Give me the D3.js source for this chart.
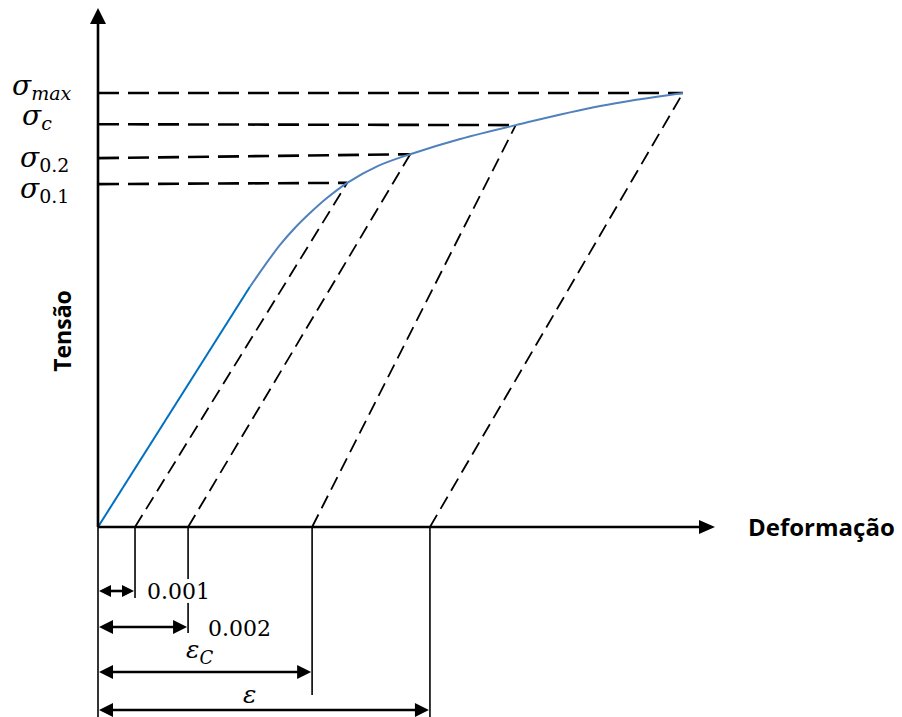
<!DOCTYPE html>
<html>
<head>
<meta charset="utf-8">
<script src="https://cdn.jsdelivr.net/npm/d3@7"></script>
<style>
  body { margin: 0; background: #fff; }
  svg { display: block; }
</style>
</head>
<body>
<div id="chart"></div>
<script>
const width = 902, height = 717;

// strain is in units of the x axis length, stress in units of σmax
const curveStrain = [0, 0.246, 0.271, 0.295, 0.319, 0.344, 0.371, 0.404, 0.454, 0.506, 0.587, 0.677, 0.814, 0.948];
const curveStress = [0, 0.553, 0.604, 0.650, 0.689, 0.724, 0.758, 0.793, 0.832, 0.859, 0.894, 0.926, 0.970, 1.0];

const levelNames = ["0.1", "0.2", "c", "max"];
const levelStress = [0.793, 0.859, 0.926, 1.0];      // where each offset line meets the curve
const levelStrain = [0.404, 0.506, 0.677, 0.948];
const levelStressAxis = [0.790, 0.850, 0.928, 1.0];  // where the dashed level leaves the axis
const offsetStrain = [0.060, 0.146, 0.347, 0.538];   // foot of each dashed parallel
const dimLabels = ["0.001", "0.002", "ε", "ε"];
const dimSubs = ["", "", "C", ""];

const x = d3.scaleLinear().domain([0, 1]).range([98, 715]);
const y = d3.scaleLinear().domain([0, 1]).range([527, 93]);

const svg = d3.select("#chart").append("svg")
    .attr("width", width)
    .attr("height", height);

const tri = (tx, ty, dir, len, half) => {
    // dir: "left", "right", "up"
    if (dir === "right") return `${tx},${ty} ${tx - len},${ty - half} ${tx - len},${ty + half}`;
    if (dir === "left") return `${tx},${ty} ${tx + len},${ty - half} ${tx + len},${ty + half}`;
    return `${tx},${ty} ${tx - half},${ty + len} ${tx + half},${ty + len}`;
};

// vertical drop lines below the strain axis
const dropEnd = [598, 633, 695, 717];
svg.append("line")
    .attr("x1", x(0)).attr("x2", x(0))
    .attr("y1", y(0)).attr("y2", height)
    .attr("stroke", "#000").attr("stroke-width", 1.6);
svg.selectAll(".drop")
    .data(offsetStrain)
    .enter()
    .append("line")
    .attr("class", "drop")
    .attr("x1", d => x(d)).attr("x2", d => x(d))
    .attr("y1", y(0))
    .attr("y2", (d, i) => dropEnd[i])
    .attr("stroke", "#000").attr("stroke-width", 1.6);

// dashed parallels to the elastic line
svg.selectAll(".offset")
    .data(offsetStrain)
    .enter()
    .append("line")
    .attr("class", "offset")
    .attr("x1", d => x(d)).attr("y1", y(0))
    .attr("x2", (d, i) => x(levelStrain[i]))
    .attr("y2", (d, i) => y(levelStress[i]))
    .attr("stroke", "#000")
    .attr("stroke-width", 1.8)
    .attr("stroke-dasharray", "14 7");

// dashed stress levels
svg.selectAll(".level")
    .data(levelStress)
    .enter()
    .append("line")
    .attr("class", "level")
    .attr("x1", x(0))
    .attr("y1", (d, i) => y(levelStressAxis[i]))
    .attr("x2", (d, i) => x(levelStrain[i]))
    .attr("y2", d => y(d))
    .attr("stroke", "#000")
    .attr("stroke-width", 2.6)
    .attr("stroke-dasharray", "21 9");

// stress-strain curve
const pts = curveStrain.map((s, i) => [x(s), y(curveStress[i])]);
svg.append("path")
    .attr("d", d3.line().curve(d3.curveCatmullRom.alpha(0.5))(pts.slice(1)))
    .attr("fill", "none")
    .attr("stroke", "#4f81bd")
    .attr("stroke-width", 2);
svg.append("path")
    .attr("d", d3.line()(pts.slice(0, 2)))
    .attr("fill", "none")
    .attr("stroke", "#0070c0")
    .attr("stroke-width", 2);

// axes
const yTop = y(1.196);
svg.append("line")
    .attr("x1", x(0)).attr("x2", x(0))
    .attr("y1", y(0)).attr("y2", yTop + 14)
    .attr("stroke", "#000").attr("stroke-width", 2.6);
svg.append("polygon")
    .attr("points", tri(x(0), yTop, "up", 16, 8));
svg.append("line")
    .attr("x1", x(0)).attr("x2", x(1) - 14)
    .attr("y1", y(0)).attr("y2", y(0))
    .attr("stroke", "#000").attr("stroke-width", 2.6);
svg.append("polygon")
    .attr("points", tri(x(1), y(0), "right", 16, 7));

svg.append("text")
    .attr("x", 748).attr("y", 536)
    .style("font-family", "'Open Sans', sans-serif")
    .style("font-weight", "bold")
    .style("font-size", "24px")
    .text("Deformação");

svg.append("text")
    .attr("transform", "translate(71,331) rotate(-90)")
    .attr("text-anchor", "middle")
    .style("font-family", "'Open Sans', sans-serif")
    .style("font-weight", "bold")
    .style("font-size", "23px")
    .text("Tensão");

// sigma labels
const labelX = [20, 20, 22, 12];
const labelDy = [14, 9, 1, 2];
levelNames.forEach((name, i) => {
    const t = svg.append("text")
        .attr("x", labelX[i])
        .attr("y", y(levelStressAxis[i]) + labelDy[i])
        .style("font-family", "'DejaVu Serif', serif");
    t.append("tspan")
        .style("font-style", "italic")
        .style("font-size", "28px")
        .text("σ");
    t.append("tspan")
        .attr("dy", 5)
        .style("font-style", /\d/.test(name) ? "normal" : "italic")
        .style("font-size", "19px")
        .text(name);
});

// dimension arrows under the axis
const arrowY = [591, 627, 672, 710];
offsetStrain.forEach((s, i) => {
    const small = i === 0;
    const len = small ? 12 : 14, half = small ? 6 : 7;
    svg.append("line")
        .attr("x1", x(0) + len - 1).attr("x2", x(s) - len + 1)
        .attr("y1", arrowY[i]).attr("y2", arrowY[i])
        .attr("stroke", "#000").attr("stroke-width", 2.6);
    svg.append("polygon").attr("points", tri(x(0) + 1, arrowY[i], "left", len, half));
    svg.append("polygon").attr("points", tri(x(s) - 1, arrowY[i], "right", len, half));
});

const dimX = [147, 208, 186, 243];
const dimY = [599, 636, 658, 703];
dimLabels.forEach((lab, i) => {
    const isNum = /\d/.test(lab);
    const t = svg.append("text")
        .attr("x", dimX[i]).attr("y", dimY[i])
        .style("font-family", "'DejaVu Serif', serif")
        .style("font-size", isNum ? "22px" : "25px")
        .style("font-style", isNum ? "normal" : "italic")
        .style("paint-order", "stroke")
        .style("stroke", "#fff")
        .style("stroke-width", isNum ? 8 : 0)
        .text(lab);
    if (dimSubs[i]) {
        t.append("tspan")
            .attr("dy", 6)
            .style("font-size", "18px")
            .text(dimSubs[i]);
    }
});
</script>
</body>
</html>
